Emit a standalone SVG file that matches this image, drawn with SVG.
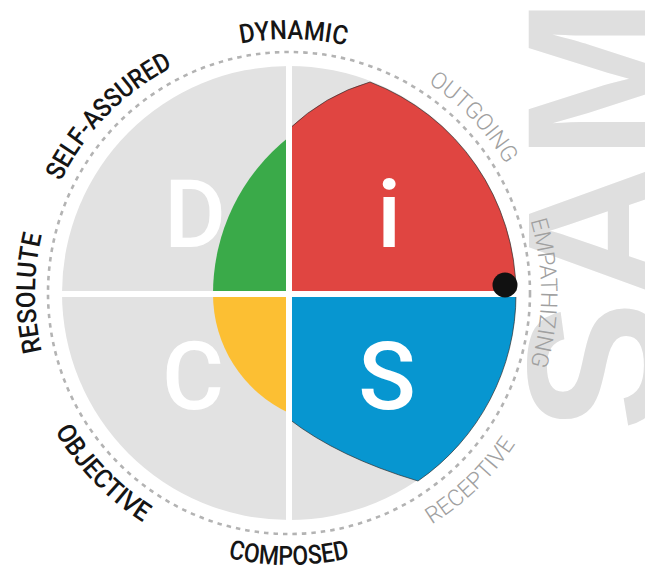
<svg xmlns="http://www.w3.org/2000/svg" width="645" height="572" viewBox="0 0 645 572">
<style>
.lbl{font-family:Roboto,"Liberation Sans",sans-serif;font-size:26.5px;font-weight:500;fill:#151515}
.lbl2{font-family:Roboto,"Liberation Sans",sans-serif;font-size:23px;font-weight:300;fill:#a0a0a0}
.big{font-family:Roboto,"Liberation Sans",sans-serif;font-size:95px;font-weight:500;fill:#ffffff;text-anchor:middle}
.sam{font-family:"Liberation Sans",Arial,sans-serif;font-size:195px;font-weight:700;fill:#dfdfdf}
.edge{stroke:#2b2b2b;stroke-width:0.9;stroke-opacity:0.75}
.div{stroke:#ffffff;stroke-width:6}
</style>
<defs>
<path id="pDyn" d="M36.4,266.45 A254,254 0 0 1 542.38,275.28"/>
<path id="pSelf" d="M96.15,458.3 A254,254 0 0 1 450.28,96.77"/>
<path id="pRes" d="M266.86,546.03 A254,254 0 0 1 266.86,39.97"/>
<path id="pOut" d="M131.78,96.06 A252,252 0 0 1 478.03,459.65"/>
<path id="pEmp" d="M310.96,41.96 A252,252 0 0 1 310.96,544.04"/>
<path id="pObj" d="M83.72,114.55 A272,272 0 0 0 460.18,504.36"/>
<path id="pCom" d="M18.04,316.71 A272,272 0 0 0 559.96,316.71"/>
<path id="pRec" d="M110.55,498.28 A272,272 0 0 0 500.38,121.82"/>
</defs>
<rect width="645" height="572" fill="#ffffff"/>
<g id="watermark">
<text class="sam" transform="translate(663,431) rotate(-90)">SAM</text>
</g>
<g id="ring">
<circle cx="289" cy="293" r="241" fill="none" stroke="#b3b3b3" stroke-width="2.6" stroke-dasharray="4.5 5"/>
</g>
<g id="chart">
<circle cx="289" cy="293" r="227" fill="#e2e2e2"/>
<g id="quadrant-D">
<path d="M289,294 L289,137 A200,200 0 0 0 213,294 Z" fill="#3aaa49"/>
<text class="big" x="195" y="247">D</text>
</g>
<g id="quadrant-i">
<path class="edge" d="M289,294 L289,129 Q325,95 370,82 A227,227 0 0 1 516,294 Z" fill="#e04541"/>
<text class="big" x="389" y="247">i</text>
</g>
<g id="quadrant-S">
<path class="edge" d="M289,294 L516,294 A227,227 0 0 1 418,481 Q338,457 289,419 Z" fill="#0796d0"/>
<text class="big" x="387" y="409">S</text>
</g>
<g id="quadrant-C">
<path d="M289,294 L213,294 A131,131 0 0 0 289,413 Z" fill="#fcbf33"/>
<text class="big" x="193" y="409">C</text>
</g>
<g id="dividers">
<line class="div" x1="289" y1="62" x2="289" y2="524"/>
<line class="div" x1="58" y1="294" x2="520" y2="294"/>
</g>
<g id="marker">
<circle cx="505" cy="285" r="12.5" fill="#111111"/>
</g>
</g>
<g id="labels">
<text class="lbl" text-anchor="middle"><textPath href="#pDyn" startOffset="50%" textLength="106" lengthAdjust="spacingAndGlyphs">DYNAMIC</textPath></text>
<text class="lbl" text-anchor="middle"><textPath href="#pSelf" startOffset="50%" textLength="163" lengthAdjust="spacingAndGlyphs">SELF-ASSURED</textPath></text>
<text class="lbl" text-anchor="middle"><textPath href="#pRes" startOffset="50%" textLength="118" lengthAdjust="spacingAndGlyphs">RESOLUTE</textPath></text>
<text class="lbl" text-anchor="middle"><textPath href="#pObj" startOffset="50%" textLength="128" lengthAdjust="spacingAndGlyphs">OBJECTIVE</textPath></text>
<text class="lbl" text-anchor="middle"><textPath href="#pCom" startOffset="50%" textLength="123" lengthAdjust="spacingAndGlyphs">COMPOSED</textPath></text>
<text class="lbl2" text-anchor="middle"><textPath href="#pRec" startOffset="50%">RECEPTIVE</textPath></text>
<text class="lbl2" text-anchor="middle"><textPath href="#pEmp" startOffset="50%">EMPATHIZING</textPath></text>
<text class="lbl2" text-anchor="middle"><textPath href="#pOut" startOffset="50%">OUTGOING</textPath></text>
</g>
</svg>
